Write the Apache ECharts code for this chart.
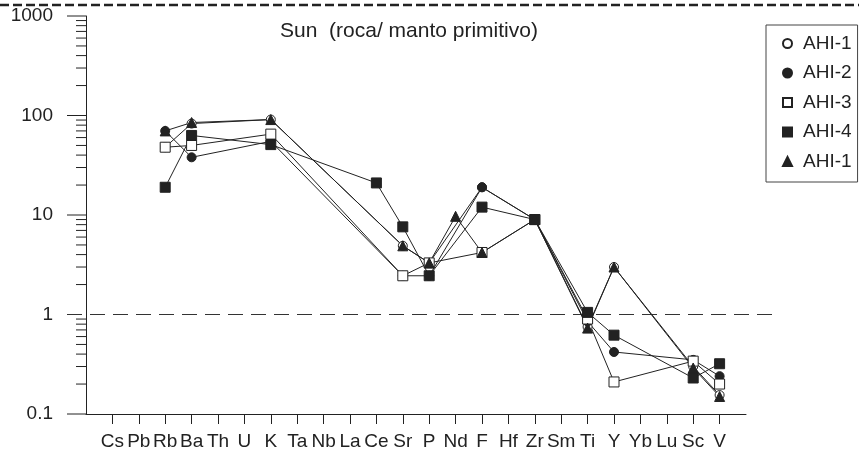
<!DOCTYPE html>
<html>
<head>
<meta charset="utf-8">
<script src="https://cdn.jsdelivr.net/npm/echarts@6/dist/echarts.min.js"></script>
<style>
  html, body { margin: 0; padding: 0; background: #fff; }
  #chart { width: 859px; height: 454px; }
</style>
</head>
<body>
<div id="chart"></div>
<script>
// Primitive-mantle normalised spidergram (Sun), log scale
const elements = ['Cs','Pb','Rb','Ba','Th','U','K','Ta','Nb','La','Ce','Sr','P','Nd','F','Hf','Zr','Sm','Ti','Y','Yb','Lu','Sc','V'];

//                Cs    Pb    Rb   Ba   Th    U     K   Ta    Nb    La    Ce    Sr    P     Nd    F     Hf    Zr  Sm    Ti    Y     Yb    Lu    Sc    V
const ahi1  = [null, null, 48,  83, null, null, 91, null, null, null, null, 4.9,  3.3,  null, 19,   null, 9, null, 0.75, 3.0,  null, null, 0.30, 0.155];
const ahi2  = [null, null, 70,  38, null, null, 55, null, null, null, null, 2.45, 2.45, null, 19,   null, 9, null, 0.85, 0.42, null, null, 0.35, 0.24];
const ahi3  = [null, null, 48,  50, null, null, 65, null, null, null, null, 2.45, 3.3,  null, 4.2,  null, 9, null, 0.90, 0.21, null, null, 0.34, 0.20];
const ahi4  = [null, null, 19,  63, null, null, 51, null, null, null, 21,   7.6,  2.45, null, 12,   null, 9, null, 1.05, 0.62, null, null, 0.23, 0.32];
const ahi1b = [null, null, 70,  85, null, null, 91, null, null, null, null, 4.9,  3.3,  9.7,  4.2,  null, 9, null, 0.73, 3.0,  null, null, 0.29, 0.15];

const yDecades = [0.1, 1, 10, 100, 1000];
const seriesLabels = { 'AHI-1': 'AHI-1', 'AHI-2': 'AHI-2', 'AHI-3': 'AHI-3', 'AHI-4': 'AHI-4', 'AHI-1b': 'AHI-1' };

const INK = '#222';
const FONT = 'Liberation Sans, Arial, sans-serif';

// category axis padded with one empty slot at each end
const cats = [''].concat(elements, ['']);
const pad = arr => [null].concat(arr, [null]);

// y ticks: majors at decades, minors at 2..9 within each decade
const tickData = [];
yDecades.forEach((d, i) => {
  if (d !== 1) tickData.push([0, d, 1]);
  if (i < yDecades.length - 1) {
    for (let m = 2; m <= 9; m++) tickData.push([0, +(d * m).toPrecision(3), 0]);
  }
});

function lineSeries(name, data, symbol, size, filled) {
  return {
    name: name,
    type: 'line',
    data: pad(data),
    connectNulls: true,
    symbol: symbol,
    symbolSize: size,
    lineStyle: { color: INK, width: 1 },
    itemStyle: filled
      ? { color: INK, borderColor: INK, borderWidth: 1 }
      : { color: '#fff', borderColor: INK, borderWidth: 1 },
    emphasis: { disabled: true },
    z: 3
  };
}

const chart = echarts.init(document.getElementById('chart'), null, { renderer: 'canvas' });

chart.setOption({
  animation: false,
  backgroundColor: '#fff',
  textStyle: { fontFamily: FONT, color: INK },
  title: {
    text: 'Sun  (roca/ manto primitivo)',
    left: 280,
    top: 21,
    padding: 0,
    textStyle: { fontFamily: FONT, fontSize: 21, fontWeight: 'normal', color: INK }
  },
  legend: {
    orient: 'vertical',
    left: 766,
    top: 25,
    padding: [9, 6, 11, 16],
    itemGap: 10.5,
    itemWidth: 9,
    itemHeight: 9,
    borderColor: '#444',
    borderWidth: 1,
    selectedMode: false,
    formatter: n => seriesLabels[n],
    textStyle: { fontFamily: FONT, fontSize: 19, color: INK, padding: [0, 0, 0, 6] },
    data: [
      { name: 'AHI-1', icon: 'circle' },
      { name: 'AHI-2', icon: 'circle' },
      { name: 'AHI-3', icon: 'rect' },
      { name: 'AHI-4', icon: 'rect' },
      { name: 'AHI-1b', icon: 'triangle' }
    ]
  },
  grid: { left: 86, right: 113, top: 16, bottom: 40 },
  xAxis: {
    type: 'category',
    data: cats,
    boundaryGap: false,
    axisLine: { lineStyle: { color: INK, width: 1 } },
    axisTick: { length: 10, interval: (i) => i > 0 && i < cats.length - 1, lineStyle: { color: INK } },
    axisLabel: { interval: 0, margin: 18, fontFamily: FONT, fontSize: 19, color: INK },
    splitLine: { show: false }
  },
  yAxis: {
    type: 'log',
    logBase: 10,
    min: 0.1,
    max: 1000,
    axisLine: { show: true, lineStyle: { color: INK, width: 1 } },
    axisTick: { show: false },
    minorTick: { show: false },
    splitLine: { show: false },
    axisLabel: {
      margin: 33,
      fontFamily: FONT,
      fontSize: 19,
      color: INK,
      formatter: v => String(+(+v).toPrecision(3))
    }
  },
  graphic: [
    {
      type: 'line',
      shape: { x1: 0, y1: 5, x2: 859, y2: 5 },
      style: { stroke: INK, lineWidth: 2.5, lineDash: [9, 4] },
      silent: true
    }
  ],
  series: [
    {
      type: 'custom',
      name: 'yticks',
      data: tickData,
      encode: { x: 0, y: 1 },
      silent: true,
      z: 1,
      renderItem: (params, api) => {
        const y = api.coord([0, api.value(1)])[1];
        const x0 = params.coordSys.x;
        const len = api.value(2) === 1 ? 19 : 10;
        return {
          type: 'line',
          shape: { x1: x0 - len, y1: y, x2: x0, y2: y },
          style: { stroke: INK, lineWidth: 1 }
        };
      }
    },
    {
      type: 'custom',
      name: 'unity',
      data: [[0, 1]],
      encode: { x: 0, y: 1 },
      silent: true,
      z: 1,
      renderItem: (params, api) => {
        const y = api.coord([0, api.value(1)])[1];
        const cs = params.coordSys;
        return {
          type: 'line',
          shape: { x1: cs.x - 19, y1: y, x2: cs.x + cs.width + 32, y2: y },
          style: { stroke: '#333', lineWidth: 1, lineDash: [15, 8] }
        };
      }
    },
    lineSeries('AHI-1', ahi1, 'circle', 9, false),
    lineSeries('AHI-2', ahi2, 'circle', 9, true),
    lineSeries('AHI-3', ahi3, 'rect', 10, false),
    lineSeries('AHI-4', ahi4, 'rect', 10, true),
    lineSeries('AHI-1b', ahi1b, 'triangle', 10, true)
  ]
});
</script>
</body>
</html>
